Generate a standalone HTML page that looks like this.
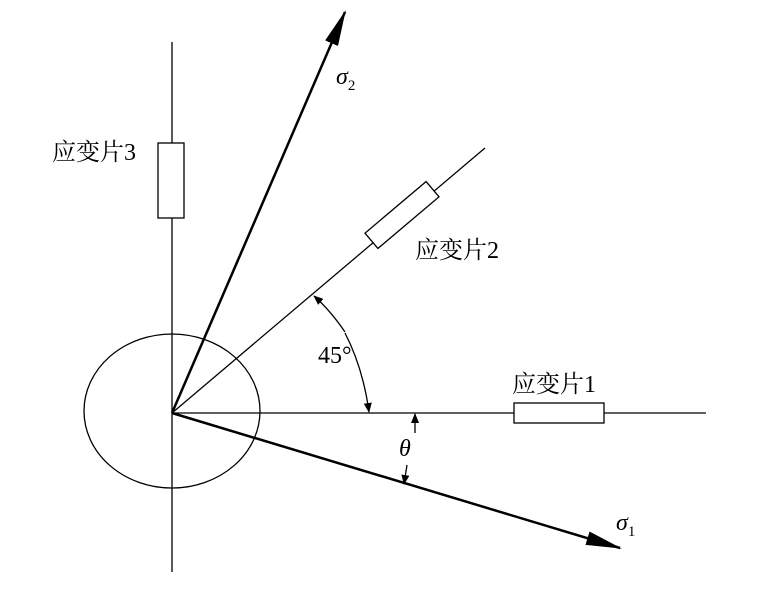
<!DOCTYPE html>
<html><head><meta charset="utf-8"><style>body{margin:0;background:#fff}svg{display:block}text{font-family:"Liberation Serif","Noto Serif CJK SC",serif;fill:#000}</style></head><body>
<svg width="780" height="599" viewBox="0 0 780 599">
<defs>
<marker id="a" markerWidth="10" markerHeight="8" refX="9" refY="4" orient="auto" markerUnits="userSpaceOnUse"><path d="M0,0 L10,4 L0,8 z"/></marker>
<marker id="b" markerWidth="36" markerHeight="14" refX="34" refY="7" orient="auto" markerUnits="userSpaceOnUse"><path d="M0,0 L36,7 L0,14 z"/></marker>
</defs>
<g stroke="#000" fill="none" stroke-width="1.3">
<line x1="172" y1="42" x2="172" y2="572"/>
<line x1="172" y1="413" x2="706" y2="413"/>
<line x1="172" y1="413" x2="485" y2="148"/>
<ellipse cx="172" cy="411" rx="88" ry="77"/>
<rect x="158" y="143" width="26" height="75" fill="#fff"/>
<rect x="514" y="403" width="90" height="20" fill="#fff"/>
<rect x="-40" y="-10" width="80" height="20" fill="#fff" transform="translate(402,215) rotate(-40.2)"/>
<line x1="172" y1="413" x2="620" y2="548" stroke-width="2.5" marker-end="url(#b)"/>
<line x1="172" y1="413" x2="345" y2="12" stroke-width="2.5" marker-end="url(#b)"/>
<path d="M345,333 Q363,368 369,412" marker-end="url(#a)"/>
<path d="M345,332 Q330,310 314,296" marker-end="url(#a)"/>
<line x1="415" y1="433" x2="415" y2="414" marker-end="url(#a)"/>
<line x1="407" y1="465" x2="404" y2="484" marker-end="url(#a)"/>
</g>
<text x="52" y="160" font-size="24">应变片3</text>
<text x="415" y="258" font-size="24">应变片2</text>
<text x="512" y="392" font-size="24">应变片1</text>
<text x="318" y="363" font-size="24">45°</text>
<text x="399" y="456" font-size="24" font-style="italic">θ</text>
<text x="336" y="84" font-size="24" font-style="italic">σ<tspan font-size="15" dy="6" font-style="normal">2</tspan></text>
<text x="616" y="530" font-size="24" font-style="italic">σ<tspan font-size="15" dy="6" font-style="normal">1</tspan></text>
</svg>
</body></html>
